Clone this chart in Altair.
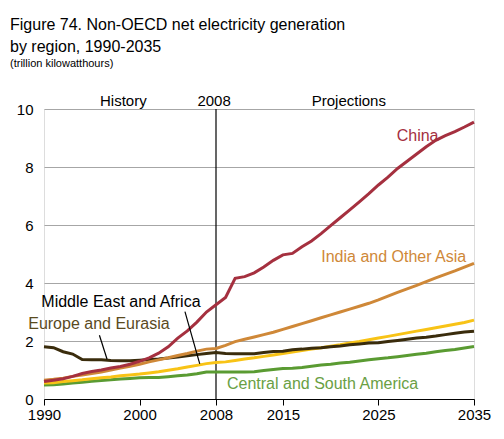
import altair as alt
import pandas as pd

years = list(range(1990, 2036))

china = [0.60, 0.65, 0.70, 0.78, 0.88, 0.95, 1.00, 1.07, 1.12, 1.20,
         1.30, 1.42, 1.58, 1.80, 2.10, 2.35, 2.65, 3.00, 3.25, 3.50,
         4.16, 4.22, 4.35, 4.55, 4.78, 4.97, 5.02, 5.25, 5.45, 5.70,
         5.98, 6.25, 6.52, 6.80, 7.08, 7.38, 7.65, 7.95, 8.20, 8.45,
         8.70, 8.92, 9.08, 9.22, 9.38, 9.55]
india = [0.65, 0.68, 0.72, 0.78, 0.83, 0.88, 0.93, 1.00, 1.07, 1.13,
         1.20, 1.28, 1.35, 1.42, 1.50, 1.57, 1.65, 1.72, 1.74, 1.85,
         1.98, 2.06, 2.14, 2.22, 2.30, 2.40, 2.50, 2.60, 2.70, 2.80,
         2.90, 3.00, 3.10, 3.20, 3.30, 3.42, 3.55, 3.68, 3.80, 3.92,
         4.05, 4.18, 4.30, 4.42, 4.55, 4.68]
europe = [1.80, 1.77, 1.63, 1.55, 1.36, 1.35, 1.35, 1.33, 1.32, 1.32,
          1.34, 1.36, 1.38, 1.41, 1.45, 1.49, 1.53, 1.57, 1.60, 1.57,
          1.56, 1.56, 1.56, 1.60, 1.64, 1.65, 1.70, 1.72, 1.75, 1.77,
          1.80, 1.83, 1.87, 1.90, 1.93, 1.94, 1.98, 2.02, 2.06, 2.10,
          2.13, 2.17, 2.22, 2.27, 2.31, 2.34]
mideast = [0.55, 0.56, 0.60, 0.63, 0.66, 0.70, 0.73, 0.76, 0.80, 0.83,
           0.86, 0.90, 0.94, 0.99, 1.04, 1.10, 1.16, 1.22, 1.26, 1.28,
           1.33, 1.38, 1.42, 1.47, 1.52, 1.57, 1.62, 1.67, 1.72, 1.77,
           1.82, 1.87, 1.93, 1.98, 2.04, 2.10, 2.16, 2.22, 2.28, 2.34,
           2.40, 2.46, 2.52, 2.58, 2.64, 2.72]
csa = [0.48, 0.49, 0.52, 0.55, 0.58, 0.61, 0.64, 0.66, 0.69, 0.71,
       0.73, 0.74, 0.74, 0.77, 0.80, 0.83, 0.87, 0.93, 0.93, 0.93,
       0.93, 0.93, 0.94, 0.98, 1.02, 1.05, 1.06, 1.09, 1.13, 1.17,
       1.20, 1.24, 1.27, 1.31, 1.35, 1.39, 1.42, 1.46, 1.50, 1.54,
       1.58, 1.63, 1.67, 1.71, 1.76, 1.81]

regions = ["Central and South America", "Middle East and Africa",
           "Europe and Eurasia", "India and Other Asia", "China"]
line_colors = ["#5A9B32", "#F8C316", "#3A2C0C", "#CF8838", "#A5303F"]
series = [csa, mideast, europe, india, china]

rows = []
for name, vals in zip(regions, series):
    for y, v in zip(years, vals):
        rows.append({"year": y, "value": v, "region": name})
df = pd.DataFrame(rows)

label_text = ["China", "India and Other Asia", "Middle East and Africa",
              "Europe and Eurasia", "Central and South America"]
label_year = [2029.1, 2026.6, 1998.05, 1995.75, 2009.15]
label_value = [9.07, 4.90, 3.34, 2.59, 0.52]
label_align = ["center", "center", "center", "center", "left"]
label_color = ["#A5303F", "#CF8838", "#000000", "#5A4A1E", "#6AA044"]
labels = pd.DataFrame({"text": label_text, "year": label_year,
                       "value": label_value, "align": label_align,
                       "color": label_color})

leader_x = [2004.75, 1995.8]
leader_y = [3.01, 2.20]
leader_x2 = [2006.3, 1996.6]
leader_y2 = [1.21, 1.37]
leaders = pd.DataFrame({"x": leader_x, "y": leader_y, "x2": leader_x2, "y2": leader_y2})

head_text = ["History", "2008", "Projections"]
head_year = [1998.3, 2007.8, 2021.9]
head_value = [10.28, 10.28, 10.28]
heads = pd.DataFrame({"text": head_text, "year": head_year, "value": head_value})

FONT = "Liberation Sans"

xscale = alt.Scale(domain=[1990, 2035], nice=False, zero=False)
yscale = alt.Scale(domain=[0, 10], nice=False)

lines = alt.Chart(df).mark_line(strokeWidth=3, clip=False).encode(
    x=alt.X("year:Q", scale=xscale, title=None,
            axis=alt.Axis(values=[1990, 2000, 2008, 2015, 2025, 2035], format="d",
                          labelFontSize=15, labelFont=FONT, labelColor="#000000",
                          domainColor="#000000", tickColor="#000000", tickSize=6,
                          labelPadding=2, grid=False, labelFlush=False)),
    y=alt.Y("value:Q", scale=yscale, title=None,
            axis=alt.Axis(values=[0, 2, 4, 6, 8, 10], labelFontSize=15, labelFont=FONT,
                          labelColor="#000000", domain=False, ticks=False,
                          labelPadding=11, gridColor="#A6A6A6", gridWidth=1.2)),
    color=alt.Color("region:N", scale=alt.Scale(domain=regions, range=line_colors),
                    legend=None),
    order=alt.Order("year:Q"),
)

vline = alt.Chart(pd.DataFrame({"x": [2008], "y": [0], "y2": [10]})).mark_rule(
    color="#000000", strokeWidth=1.2).encode(
    x=alt.X("x:Q", scale=xscale), y=alt.Y("y:Q", scale=yscale), y2="y2:Q")

lead = alt.Chart(leaders).mark_rule(color="#000000", strokeWidth=1.2).encode(
    x=alt.X("x:Q", scale=xscale), y=alt.Y("y:Q", scale=yscale), x2="x2:Q", y2="y2:Q")

label_layers = []
for i in range(len(label_text)):
    sub = labels.iloc[[i]]
    label_layers.append(
        alt.Chart(sub).mark_text(font=FONT, fontSize=16, align=label_align[i],
                                 baseline="middle", color=label_color[i]).encode(
            x=alt.X("year:Q", scale=xscale), y=alt.Y("value:Q", scale=yscale),
            text="text:N"))

head = alt.Chart(heads).mark_text(font=FONT, fontSize=15, align="center",
                                  baseline="middle", color="#000000").encode(
    x=alt.X("year:Q", scale=xscale), y=alt.Y("value:Q", scale=yscale), text="text:N")

chart = alt.layer(vline, lines, lead, head, *label_layers).properties(
    width=430, height=290,
    padding={"left": 36, "top": 101, "right": 22, "bottom": 22},
    autosize=alt.AutoSizeParams(type="none"),
    title=alt.TitleParams(
        text=["Figure 74. Non-OECD net electricity generation", "by region, 1990-2035"],
        subtitle="(trillion kilowatthours)",
        anchor="start", frame="group", font=FONT, fontSize=16, fontWeight="normal",
        color="#000000", lineHeight=22, subtitleFont=FONT, subtitleFontSize=11,
        subtitleColor="#000000", subtitlePadding=3, dx=-34, offset=25),
).configure_view(stroke=None).configure(background="#FFFFFF")

chart.save("out.html", embed_options={"renderer": "svg", "actions": False})
